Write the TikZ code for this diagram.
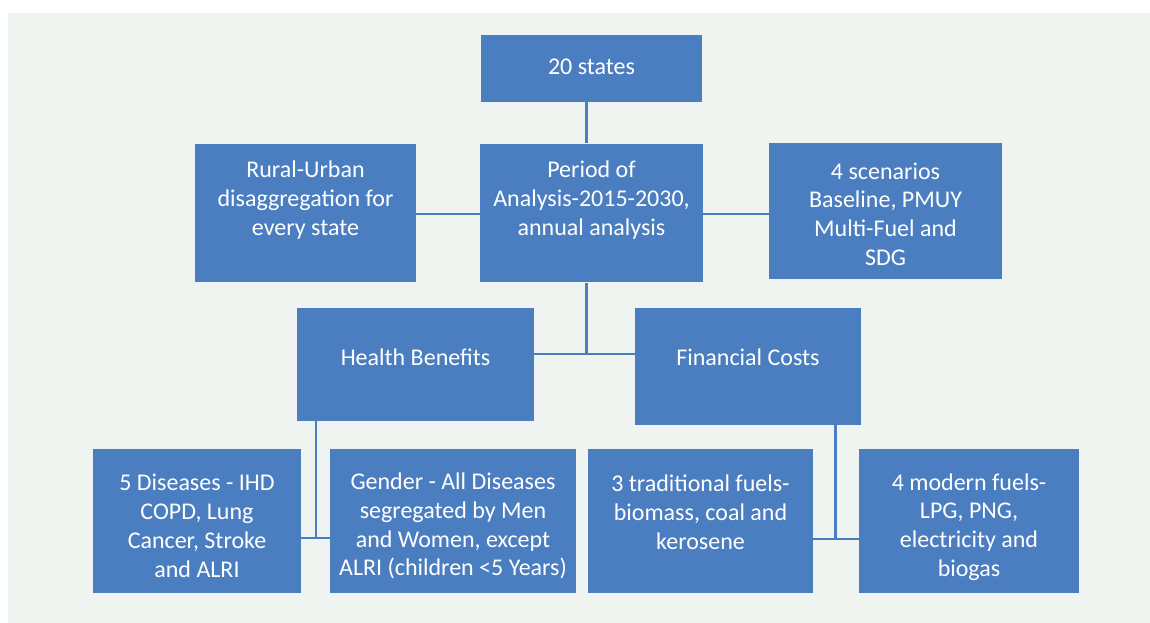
\documentclass[tikz,border=0pt]{standalone}
\usepackage{fontspec}
\setmainfont{Carlito}
\usepackage{tikz}
\usetikzlibrary{positioning,calc}
\definecolor{panelbg}{RGB}{239,244,240}
\definecolor{boxblue}{RGB}{74,126,193}

\begin{document}
\begin{tikzpicture}[x=0.75pt, y=-0.75pt,
    box/.style={draw=none, fill=boxblue, inner sep=0pt},
    txt/.style={text=white, align=center,
      font=\fontsize{18}{21.6}\selectfont},
    link/.style={draw=boxblue, line width=1.6pt}]
  % Panel
  \fill[panelbg] (8,13) rectangle (1150,623);
  \useasboundingbox (0,0) rectangle (1150,623);

  % Top level
  \node[box, minimum width=166pt, minimum height=50pt,
    label={[txt, yshift=1.5pt]center:20 states}] (states) at (591.5,68.5) {};

  % Second row
  \node[box, minimum width=167pt, minimum height=104pt,
    label={[txt, yshift=9.75pt]center:{Period of\\Analysis-2015-2030,\\annual analysis}}]
    (period) at (591.5,213) {};
  \node[box, minimum width=166pt, minimum height=104pt,
    label={[txt, yshift=9.75pt]center:{Rural-Urban\\disaggregation for\\every state}}]
    (rural) at (305.5,213) {};
  \node[box, minimum width=175pt, minimum height=102pt,
    label={[txt, yshift=-1.9pt]center:{4 scenarios\\Baseline, PMUY\\Multi-Fuel and\\SDG}}]
    (scen) at (885.5,211.5) {};

  % Third row
  \node[box, minimum width=178pt, minimum height=85pt,
    label={[txt, yshift=5.25pt]center:Health Benefits}] (health) at (415.5,364.5) {};
  \node[box, minimum width=169pt, minimum height=88pt,
    label={[txt, yshift=6.75pt]center:Financial Costs}] (cost) at (748,366.5) {};

  % Bottom row
  \node[box, minimum width=156pt, minimum height=108pt,
    label={[txt, yshift=-3.75pt]center:{5 Diseases - IHD\\COPD, Lung\\Cancer, Stroke\\and ALRI}}]
    (dis) at (197,521) {};
  \node[box, minimum width=184pt, minimum height=108pt,
    label={[txt, yshift=-3.75pt]center:{Gender - All Diseases\\segregated by Men\\and Women, except\\ALRI (children <5 Years)}}]
    (gender) at (453,521) {};
  \node[box, minimum width=169pt, minimum height=108pt,
    label={[txt, yshift=6.75pt]center:{3 traditional fuels-\\biomass, coal and\\kerosene}}]
    (trad) at (700.5,521) {};
  \node[box, minimum width=165pt, minimum height=108pt,
    label={[txt, yshift=-4.5pt]center:{4 modern fuels-\\LPG, PNG,\\electricity and\\biogas}}]
    (modern) at (969,521) {};

  % Junction points
  \coordinate (hub) at (586.5,354);
  \coordinate (hleg) at (316,538);
  \coordinate (cleg) at (835.5,539);

  % Connectors
  \draw[link] (states.south -| hub) -- (period.north -| hub);
  \draw[link] (period.west |- 0,214) -- (rural.east |- 0,214);
  \draw[link] (period.east |- 0,214) -- (scen.west |- 0,214);
  \draw[link] (period.south -| hub) -- (hub);
  \draw[link] (health.east |- hub) -- (cost.west |- hub);
  \draw[link] (health.south -| hleg) -- (hleg);
  \draw[link] (dis.east |- hleg) -- (gender.west |- hleg);
  \draw[link] (cost.south -| cleg) -- (cleg);
  \draw[link] (trad.east |- cleg) -- (modern.west |- cleg);
\end{tikzpicture}
\end{document}
